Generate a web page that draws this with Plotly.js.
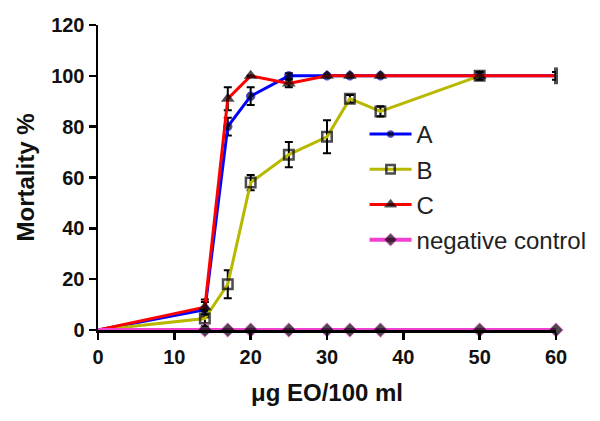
<!DOCTYPE html>
<html>
<head>
<meta charset="utf-8">
<script src="https://cdn.plot.ly/plotly-3.0.1.min.js"></script>
<style>html,body{margin:0;padding:0;background:#fff}#chart{width:600px;height:421px}</style>
</head>
<body>
<div id="chart"></div>
<script>
// Data
const doseAll = [0, 14, 17, 20, 25, 30, 33, 37, 50, 60];
const seriesA = [0, 8, 80, 92, 100, 100, 100, 100, 100, 100];
const errA    = [0, 3, 3.5, 3.5, 1, 0, 0, 0, 0, 0];
const doseB   = [0, 14, 17, 20, 25, 30, 33, 37, 50];
const seriesB = [0, 4.5, 18, 58, 69, 76, 91, 86, 100];
const errB    = [0, 3, 5.5, 3, 5, 6.5, 1.5, 2, 1.5];
const seriesC = [0, 9, 91, 100, 97, 100, 100, 100, 100, 100];
const errC    = [0, 3, 4.5, 0, 1.5, 0, 0, 0, 0, 1.5];
const negCtrl = [0, 0, 0, 0, 0, 0, 0, 0, 0, 0];
const names = ["A", "B", "C", "negative control"];
const xTitle = "μg EO/100 ml";
const yTitle = "Mortality %";

const FONT = "Liberation Sans, Arial, sans-serif";
const errStyle = (arr) => ({type: "data", array: arr, visible: true, color: "#000", thickness: 2, width: 4});
// no marker drawn at the origin (hidden behind the axes in the reference)
const sizes = (xs, s) => xs.map(d => (d === 0 ? 0 : s));

const traces = [
  {x: doseAll, y: seriesA, name: names[0], legendgroup: "a", type: "scatter", mode: "lines+markers",
   line: {color: "#0000FF", width: 3}, marker: {symbol: "circle", size: doseAll.map(d => (d === 0 || d === 60 ? 0 : 8.5)), color: "#000"},
   error_y: errStyle(errA), cliponaxis: false},
  {x: doseB, y: seriesB, name: names[1], legendgroup: "b", type: "scatter", mode: "lines+markers",
   line: {color: "#B8B800", width: 3}, marker: {symbol: "square-open", size: sizes(doseB, 9.5), color: "#000", line: {width: 2.5, color: "#000"}},
   error_y: errStyle(errB), cliponaxis: false},
  {x: doseAll, y: seriesC, name: names[2], legendgroup: "c", type: "scatter", mode: "lines+markers",
   line: {color: "#FF0000", width: 3},
   marker: {symbol: doseAll.map(d => (d === 60 ? "line-ns-open" : "triangle-up")), size: sizes(doseAll, 12), color: "#000",
            line: {color: "#000", width: doseAll.map(d => (d === 60 ? 4 : 0))}},
   error_y: errStyle(errC), cliponaxis: false},
  {x: doseAll, y: negCtrl, name: names[3], legendgroup: "d", type: "scatter", mode: "lines+markers",
   line: {color: "#F040D0", width: 4}, marker: {symbol: "diamond", size: sizes(doseAll, 11), color: "#000"},
   cliponaxis: false}
];

const layout = {
  width: 600, height: 421,
  margin: {l: 98, r: 44, t: 25, b: 91, autoexpand: false},
  paper_bgcolor: "#fff", plot_bgcolor: "#fff",
  showlegend: true,
  legend: {x: 0.582, xanchor: "left", y: 0.715, yanchor: "top", bgcolor: "rgba(0,0,0,0)",
           font: {family: FONT, size: 24, color: "#222"}, tracegroupgap: 1, itemwidth: 42},
  xaxis: {range: [0, 60], tickvals: [0, 10, 20, 30, 40, 50, 60], showgrid: false, zeroline: false, automargin: false,
          showline: true, linecolor: "#000", linewidth: 2.5, ticks: "outside", ticklen: 7, tickwidth: 2.5, tickcolor: "#000",
          tickfont: {family: FONT, size: 20, color: "#111", weight: "bold"},
          title: {text: xTitle, font: {family: FONT, size: 24, color: "#111", weight: "bold"}, standoff: 18}},
  yaxis: {range: [0, 120], tickvals: [0, 20, 40, 60, 80, 100, 120], showgrid: false, zeroline: false, automargin: false,
          showline: true, linecolor: "#000", linewidth: 2.5, ticks: "outside", ticklen: 7, tickwidth: 2.5, tickcolor: "#000",
          tickfont: {family: FONT, size: 20, color: "#111", weight: "bold"},
          title: {text: yTitle, font: {family: FONT, size: 24, color: "#111", weight: "bold"}, standoff: 10}}
};

Plotly.newPlot("chart", traces, layout, {staticPlot: true, displayModeBar: false});
</script>
</body>
</html>
